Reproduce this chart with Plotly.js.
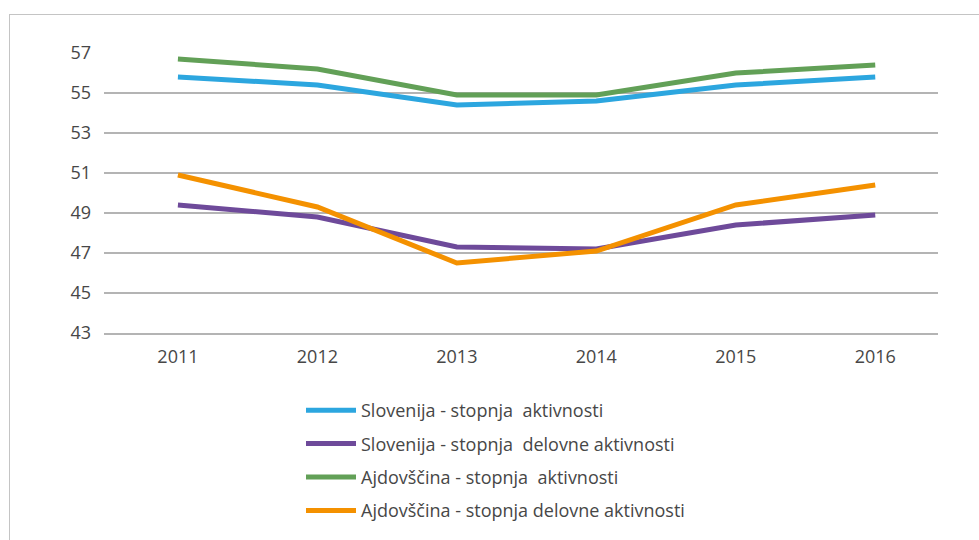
<!DOCTYPE html>
<html>
<head>
<meta charset="utf-8">
<script src="https://cdn.plot.ly/plotly-3.0.1.min.js"></script>
<style>
  html, body { margin: 0; padding: 0; background: #ffffff; }
  #wrap { position: relative; width: 979px; height: 540px; overflow: hidden; }
  #frame { position: absolute; left: 9px; top: 14px; width: 1100px; height: 700px;
           border-left: 1.5px solid #c4c4c4; border-top: 1.5px solid #c4c4c4; pointer-events: none; }
  #chart { position: absolute; left: 0; top: 0; width: 979px; height: 540px; }
</style>
</head>
<body>
<div id="wrap">
  <div id="chart"></div>
  <div id="frame"></div>
</div>
<script>
const years = ['2011', '2012', '2013', '2014', '2015', '2016'];
const sloAktivnost = [55.8, 55.4, 54.4, 54.6, 55.4, 55.8];
const sloDelovna = [49.4, 48.8, 47.3, 47.2, 48.4, 48.9];
const ajdAktivnost = [56.7, 56.2, 54.9, 54.9, 56.0, 56.4];
const ajdDelovna = [50.9, 49.3, 46.5, 47.1, 49.4, 50.4];
const seriesNames = [
  'Slovenija - stopnja\u00a0 aktivnosti',
  'Slovenija - stopnja\u00a0 delovne aktivnosti',
  'Ajdovščina - stopnja\u00a0 aktivnosti',
  'Ajdovščina - stopnja delovne aktivnosti'
];
const yTicks = [43, 45, 47, 49, 51, 53, 55, 57];

const colors = ['#2ca6df', '#6e4a9a', '#62a057', '#f49100'];
const values = [sloAktivnost, sloDelovna, ajdAktivnost, ajdDelovna];

const traces = values.map((v, i) => ({
  type: 'scatter',
  mode: 'lines',
  x: years,
  y: v,
  name: seriesNames[i],
  legendgroup: 'g' + i,
  line: { color: colors[i], width: 5, shape: 'linear' },
  hoverinfo: 'x+y+name'
}));

const W = 979, H = 540;
const mL = 104, mR = 41, mT = 53, mB = 206;
const plotW = W - mL - mR, plotH = H - mT - mB;
const pxToPaperX = px => (px - mL) / plotW;
const pxToPaperY = py => (H - mB - py) / plotH;
const textColor = '#474747';

const layout = {
  width: W,
  height: H,
  margin: { l: mL, r: mR, t: mT, b: mB, pad: 0 },
  paper_bgcolor: 'rgba(0,0,0,0)',
  plot_bgcolor: 'rgba(0,0,0,0)',
  font: { family: '"Open Sans", "Noto Sans", sans-serif', size: 18, color: textColor },
  showlegend: true,
  xaxis: {
    type: 'category',
    range: [-0.53, 5.45],
    showgrid: false,
    showline: true,
    linecolor: '#b4b4b4',
    linewidth: 1.5,
    ticks: '',
    ticklabelstandoff: 7,
    tickfont: { size: 18, color: textColor },
    zeroline: false,
    fixedrange: true
  },
  yaxis: {
    range: [43, 57],
    tickvals: yTicks,
    ticktext: yTicks.map(String),
    showgrid: true,
    gridcolor: '#b4b4b4',
    gridwidth: 1.5,
    showline: false,
    zeroline: false,
    ticks: '',
    ticklabelstandoff: 12,
    tickfont: { size: 18, color: textColor },
    fixedrange: true
  },
  legend: {
    orientation: 'v',
    x: pxToPaperX(301),
    xanchor: 'left',
    y: pxToPaperY(392),
    yanchor: 'top',
    traceorder: 'grouped',
    tracegroupgap: 7,
    itemwidth: 50,
    bgcolor: 'rgba(0,0,0,0)',
    font: { size: 18, color: textColor }
  }
};

Plotly.newPlot('chart', traces, layout, { displayModeBar: false, staticPlot: true });
</script>
</body>
</html>
